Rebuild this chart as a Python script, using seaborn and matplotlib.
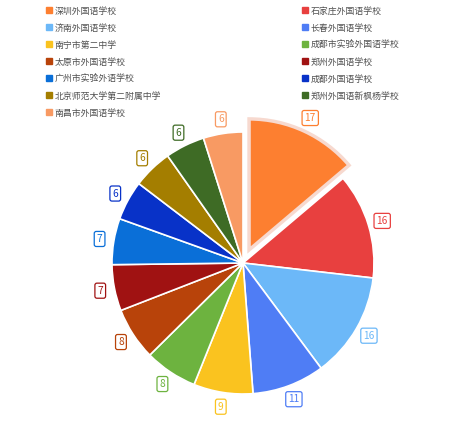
import matplotlib
matplotlib.use('Agg')
import matplotlib.pyplot as plt
import seaborn as sns
from matplotlib.lines import Line2D

schools = ['深圳外国语学校', '石家庄外国语学校', '济南外国语学校', '长春外国语学校',
           '南宁市第二中学', '成都市实验外国语学校', '太原市外国语学校', '郑州外国语学校',
           '广州市实验外语学校', '成都外国语学校', '北京师范大学第二附属中学',
           '郑州外国语新枫杨学校', '南昌市外国语学校']
counts = [17, 16, 16, 11, 9, 8, 8, 7, 7, 6, 6, 6, 6]
colors = ['#fd7f30', '#e8403f', '#6cb8f8', '#4f7df5', '#fac31f', '#6db33f', '#b8430a',
          '#a01212', '#0a6fd8', '#0832c8', '#a47e00', '#3e6b25', '#f89a63']

sns.set_theme(style='white')
plt.rcParams['font.family'] = ['Noto Sans CJK SC', 'DejaVu Sans']

pal = sns.color_palette(colors)

W, H = 451, 422
fig = plt.figure(figsize=(W / 100, H / 100), dpi=100)

# pie axes placed by pixels: centre (243, 263), radius 131 px
r = 131
half = 1.4 * r
cx, cy = 243, 263
ax = fig.add_axes([(cx - half) / W, (H - cy - half) / H, 2 * half / W, 2 * half / H])

explode = [0.11] + [0] * (len(counts) - 1)
wedges, texts = ax.pie(counts, colors=pal, startangle=90, counterclock=False,
                       explode=explode, radius=1, labels=[str(c) for c in counts],
                       labeldistance=1.11,
                       wedgeprops=dict(edgecolor='white', linewidth=1.2))
wedges[0].set_edgecolor('#f7d9cf')
wedges[0].set_linewidth(2.5)
ax.set_xlim(-1.4, 1.4)
ax.set_ylim(-1.4, 1.4)
ax.set_aspect('equal')
ax.axis('off')

for t, col in zip(texts, pal):
    t.set_color(col)
    t.set_fontsize(7.3)
    t.set_ha('center')
    t.set_va('center')
    t.set_bbox(dict(boxstyle='round,pad=0.25,rounding_size=0.2', fc='white', ec=col, lw=0.9))

def handles(idx):
    return [Line2D([0], [0], marker='s', linestyle='none', markersize=4,
                   markerfacecolor=pal[i], markeredgecolor=pal[i]) for i in idx]

left = list(range(0, len(schools), 2))
right = list(range(1, len(schools), 2))
common = dict(loc='upper left', frameon=False, fontsize=6.4, handlelength=0.65,
              handletextpad=0.3, borderpad=0, borderaxespad=0, labelspacing=0.9,
              labelcolor='#505050')
fig.legend(handles(left), [schools[i] for i in left],
           bbox_to_anchor=(46 / W, 1 - 6.5 / H), **common)
fig.legend(handles(right), [schools[i] for i in right],
           bbox_to_anchor=(302 / W, 1 - 6.5 / H), **common)

fig.savefig('out.png', dpi=100, facecolor='white')
